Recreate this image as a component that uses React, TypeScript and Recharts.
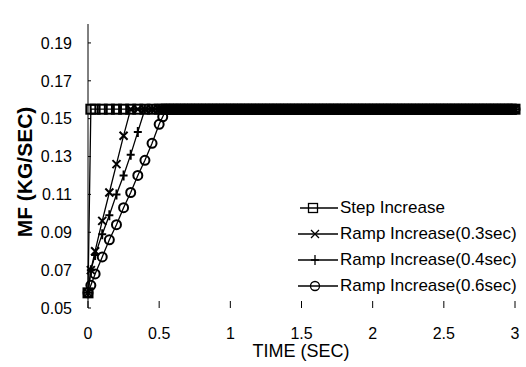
import { Label, Legend, Line, LineChart, XAxis, YAxis } from 'recharts'

// sampled every 0.05 s during the rise, every 0.025 s on the plateau
const time = [
  0, 0.02, 0.05, 0.1, 0.15, 0.2, 0.25, 0.3, 0.35, 0.4, 0.45, 0.5,
  0.525, 0.55, 0.575, 0.6, 0.625, 0.65, 0.675, 0.7, 0.725, 0.75,
  0.775, 0.8, 0.825, 0.85, 0.875, 0.9, 0.925, 0.95, 0.975, 1,
  1.025, 1.05, 1.075, 1.1, 1.125, 1.15, 1.175, 1.2, 1.225, 1.25,
  1.275, 1.3, 1.325, 1.35, 1.375, 1.4, 1.425, 1.45, 1.475, 1.5,
  1.525, 1.55, 1.575, 1.6, 1.625, 1.65, 1.675, 1.7, 1.725, 1.75,
  1.775, 1.8, 1.825, 1.85, 1.875, 1.9, 1.925, 1.95, 1.975, 2,
  2.025, 2.05, 2.075, 2.1, 2.125, 2.15, 2.175, 2.2, 2.225, 2.25,
  2.275, 2.3, 2.325, 2.35, 2.375, 2.4, 2.425, 2.45, 2.475, 2.5,
  2.525, 2.55, 2.575, 2.6, 2.625, 2.65, 2.675, 2.7, 2.725, 2.75,
  2.775, 2.8, 2.825, 2.85, 2.875, 2.9, 2.925, 2.95, 2.975, 3,
]

const stepIncrease = [
  0.058, 0.155, 0.155, 0.155, 0.155, 0.155, 0.155, 0.155, 0.155, 0.155, 0.155, 0.155,
  0.155, 0.155, 0.155, 0.155, 0.155, 0.155, 0.155, 0.155, 0.155, 0.155,
  0.155, 0.155, 0.155, 0.155, 0.155, 0.155, 0.155, 0.155, 0.155, 0.155,
  0.155, 0.155, 0.155, 0.155, 0.155, 0.155, 0.155, 0.155, 0.155, 0.155,
  0.155, 0.155, 0.155, 0.155, 0.155, 0.155, 0.155, 0.155, 0.155, 0.155,
  0.155, 0.155, 0.155, 0.155, 0.155, 0.155, 0.155, 0.155, 0.155, 0.155,
  0.155, 0.155, 0.155, 0.155, 0.155, 0.155, 0.155, 0.155, 0.155, 0.155,
  0.155, 0.155, 0.155, 0.155, 0.155, 0.155, 0.155, 0.155, 0.155, 0.155,
  0.155, 0.155, 0.155, 0.155, 0.155, 0.155, 0.155, 0.155, 0.155, 0.155,
  0.155, 0.155, 0.155, 0.155, 0.155, 0.155, 0.155, 0.155, 0.155, 0.155,
  0.155, 0.155, 0.155, 0.155, 0.155, 0.155, 0.155, 0.155, 0.155, 0.155,
]

const ramp03 = [
  0.058, 0.070, 0.080, 0.096, 0.111, 0.126, 0.141, 0.155, 0.155, 0.155, 0.155, 0.155,
  0.155, 0.155, 0.155, 0.155, 0.155, 0.155, 0.155, 0.155, 0.155, 0.155,
  0.155, 0.155, 0.155, 0.155, 0.155, 0.155, 0.155, 0.155, 0.155, 0.155,
  0.155, 0.155, 0.155, 0.155, 0.155, 0.155, 0.155, 0.155, 0.155, 0.155,
  0.155, 0.155, 0.155, 0.155, 0.155, 0.155, 0.155, 0.155, 0.155, 0.155,
  0.155, 0.155, 0.155, 0.155, 0.155, 0.155, 0.155, 0.155, 0.155, 0.155,
  0.155, 0.155, 0.155, 0.155, 0.155, 0.155, 0.155, 0.155, 0.155, 0.155,
  0.155, 0.155, 0.155, 0.155, 0.155, 0.155, 0.155, 0.155, 0.155, 0.155,
  0.155, 0.155, 0.155, 0.155, 0.155, 0.155, 0.155, 0.155, 0.155, 0.155,
  0.155, 0.155, 0.155, 0.155, 0.155, 0.155, 0.155, 0.155, 0.155, 0.155,
  0.155, 0.155, 0.155, 0.155, 0.155, 0.155, 0.155, 0.155, 0.155, 0.155,
]

const ramp04 = [
  0.058, 0.070, 0.078, 0.089, 0.099, 0.110, 0.120, 0.131, 0.143, 0.155, 0.155, 0.155,
  0.155, 0.155, 0.155, 0.155, 0.155, 0.155, 0.155, 0.155, 0.155, 0.155,
  0.155, 0.155, 0.155, 0.155, 0.155, 0.155, 0.155, 0.155, 0.155, 0.155,
  0.155, 0.155, 0.155, 0.155, 0.155, 0.155, 0.155, 0.155, 0.155, 0.155,
  0.155, 0.155, 0.155, 0.155, 0.155, 0.155, 0.155, 0.155, 0.155, 0.155,
  0.155, 0.155, 0.155, 0.155, 0.155, 0.155, 0.155, 0.155, 0.155, 0.155,
  0.155, 0.155, 0.155, 0.155, 0.155, 0.155, 0.155, 0.155, 0.155, 0.155,
  0.155, 0.155, 0.155, 0.155, 0.155, 0.155, 0.155, 0.155, 0.155, 0.155,
  0.155, 0.155, 0.155, 0.155, 0.155, 0.155, 0.155, 0.155, 0.155, 0.155,
  0.155, 0.155, 0.155, 0.155, 0.155, 0.155, 0.155, 0.155, 0.155, 0.155,
  0.155, 0.155, 0.155, 0.155, 0.155, 0.155, 0.155, 0.155, 0.155, 0.155,
]

const ramp06 = [
  0.058, 0.062, 0.068, 0.077, 0.086, 0.094, 0.103, 0.111, 0.120, 0.128, 0.137, 0.147,
  0.151, 0.155, 0.155, 0.155, 0.155, 0.155, 0.155, 0.155, 0.155, 0.155,
  0.155, 0.155, 0.155, 0.155, 0.155, 0.155, 0.155, 0.155, 0.155, 0.155,
  0.155, 0.155, 0.155, 0.155, 0.155, 0.155, 0.155, 0.155, 0.155, 0.155,
  0.155, 0.155, 0.155, 0.155, 0.155, 0.155, 0.155, 0.155, 0.155, 0.155,
  0.155, 0.155, 0.155, 0.155, 0.155, 0.155, 0.155, 0.155, 0.155, 0.155,
  0.155, 0.155, 0.155, 0.155, 0.155, 0.155, 0.155, 0.155, 0.155, 0.155,
  0.155, 0.155, 0.155, 0.155, 0.155, 0.155, 0.155, 0.155, 0.155, 0.155,
  0.155, 0.155, 0.155, 0.155, 0.155, 0.155, 0.155, 0.155, 0.155, 0.155,
  0.155, 0.155, 0.155, 0.155, 0.155, 0.155, 0.155, 0.155, 0.155, 0.155,
  0.155, 0.155, 0.155, 0.155, 0.155, 0.155, 0.155, 0.155, 0.155, 0.155,
]

const seriesNames = [
  'Step Increase',
  'Ramp Increase(0.3sec)',
  'Ramp Increase(0.4sec)',
  'Ramp Increase(0.6sec)',
]
const xTicks = [0, 0.5, 1, 1.5, 2, 2.5, 3]
const yTicks = [0.05, 0.07, 0.09, 0.11, 0.13, 0.15, 0.17, 0.19]

const data = time.map((t, i) => ({
  t,
  step: stepIncrease[i],
  r03: ramp03[i],
  r04: ramp04[i],
  r06: ramp06[i],
}))

const FONT = '"Liberation Sans", Arial, sans-serif'
const MW = 2 // marker stroke

// marker shapes
function squareMark(cx: number, cy: number, key?: any, w = MW) {
  return <rect key={key} x={cx - 4.5} y={cy - 4.5} width={9} height={9} fill="none" stroke="#000" strokeWidth={w} />
}
function crossMark(cx: number, cy: number, key?: any, w = MW) {
  return (
    <path key={key} d={`M${cx - 4},${cy - 4}L${cx + 4},${cy + 4}M${cx - 4},${cy + 4}L${cx + 4},${cy - 4}`}
      stroke="#000" strokeWidth={w} fill="none" />
  )
}
function plusMark(cx: number, cy: number, key?: any, w = MW) {
  return (
    <path key={key} d={`M${cx - 4},${cy}L${cx + 4},${cy}M${cx},${cy - 5}L${cx},${cy + 5}`}
      stroke="#000" strokeWidth={w} fill="none" />
  )
}
function circleMark(cx: number, cy: number, key?: any, w = MW) {
  return <circle key={key} cx={cx} cy={cy} r={4.5} fill="none" stroke="#000" strokeWidth={w} />
}

const marks = [squareMark, crossMark, plusMark, circleMark]

const dotFor = (fn: typeof squareMark) => (p: any) => fn(p.cx, p.cy, p.index)

function XTick(props: any) {
  const { x, y, payload } = props
  return (
    <g>
      <line x1={x} y1={y} x2={x} y2={y - 7} stroke="#000" strokeWidth={1} />
      <text x={x} y={y + 31} textAnchor="middle" fontSize={16} fontFamily={FONT} fill="#000">
        {payload.value}
      </text>
    </g>
  )
}

function YTick(props: any) {
  const { x, y, payload } = props
  return (
    <g>
      <line x1={x} y1={y} x2={x + 3} y2={y} stroke="#000" strokeWidth={1} />
      <text x={x - 16} y={y} dy="0.36em" textAnchor="end" fontSize={16} fontFamily={FONT} fill="#000">
        {Number(payload.value).toFixed(2)}
      </text>
    </g>
  )
}

function LegendBox() {
  return (
    <div style={{ fontFamily: FONT, fontSize: 17, color: '#000' }}>
      {seriesNames.map((name, i) => (
        <div key={name} style={{ display: 'flex', alignItems: 'center', height: 26 }}>
          <svg width={42} height={14} style={{ display: 'block', flex: 'none' }}>
            <line x1={i === 0 ? 2 : 0} y1={7} x2={40} y2={7} stroke="#000" strokeWidth={1.3} />
            {marks[i](i === 0 ? 15 : 17, 7, undefined, 1.3)}
          </svg>
          <span style={{ whiteSpace: 'nowrap' }}>{name}</span>
        </div>
      ))}
    </div>
  )
}

export default function App() {
  return (
    <div style={{ width: 526, height: 367, background: '#fff' }}>
      <style>{'body{margin:0;background:#fff}'}</style>
      <LineChart width={526} height={367} data={data} margin={{ top: 24, right: 11, bottom: 29, left: 28 }}>
        <XAxis
          dataKey="t"
          type="number"
          domain={[0, 3]}
          ticks={xTicks}
          axisLine={false}
          tickLine={false}
          tickSize={0}
          tickMargin={0}
          height={30}
          tick={<XTick />}
          interval={0}
        >
          <Label
            content={() => (
              <text x={301} y={357} textAnchor="middle" fontSize={18} fontFamily={FONT} fill="#000">
                TIME (SEC)
              </text>
            )}
          />
        </XAxis>
        <YAxis
          type="number"
          domain={[0.05, 0.2]}
          ticks={yTicks}
          width={60}
          axisLine={{ stroke: '#000', strokeWidth: 1 }}
          tickLine={false}
          tickSize={0}
          tickMargin={0}
          tick={<YTick />}
          interval={0}
        >
          <Label
            content={() => (
              <text x={32} y={172} transform="rotate(-90 32 172)" textAnchor="middle" fontSize={21}
                fontWeight="bold" fontFamily={FONT} fill="#000">
                MF (KG/SEC)
              </text>
            )}
          />
        </YAxis>
        <Legend
          layout="vertical"
          align="center"
          verticalAlign="middle"
          content={<LegendBox />}
          wrapperStyle={{ position: 'absolute', left: 298, top: 195, width: 228, height: 110 }}
        />
        <Line dataKey="step" name={seriesNames[0]} stroke="#000" strokeWidth={1.3} dot={dotFor(squareMark)} isAnimationActive={false} />
        <Line dataKey="r03" name={seriesNames[1]} stroke="#000" strokeWidth={1.3} dot={dotFor(crossMark)} isAnimationActive={false} />
        <Line dataKey="r04" name={seriesNames[2]} stroke="#000" strokeWidth={1.3} dot={dotFor(plusMark)} isAnimationActive={false} />
        <Line dataKey="r06" name={seriesNames[3]} stroke="#000" strokeWidth={1.3} dot={dotFor(circleMark)} isAnimationActive={false} />
      </LineChart>
    </div>
  )
}
